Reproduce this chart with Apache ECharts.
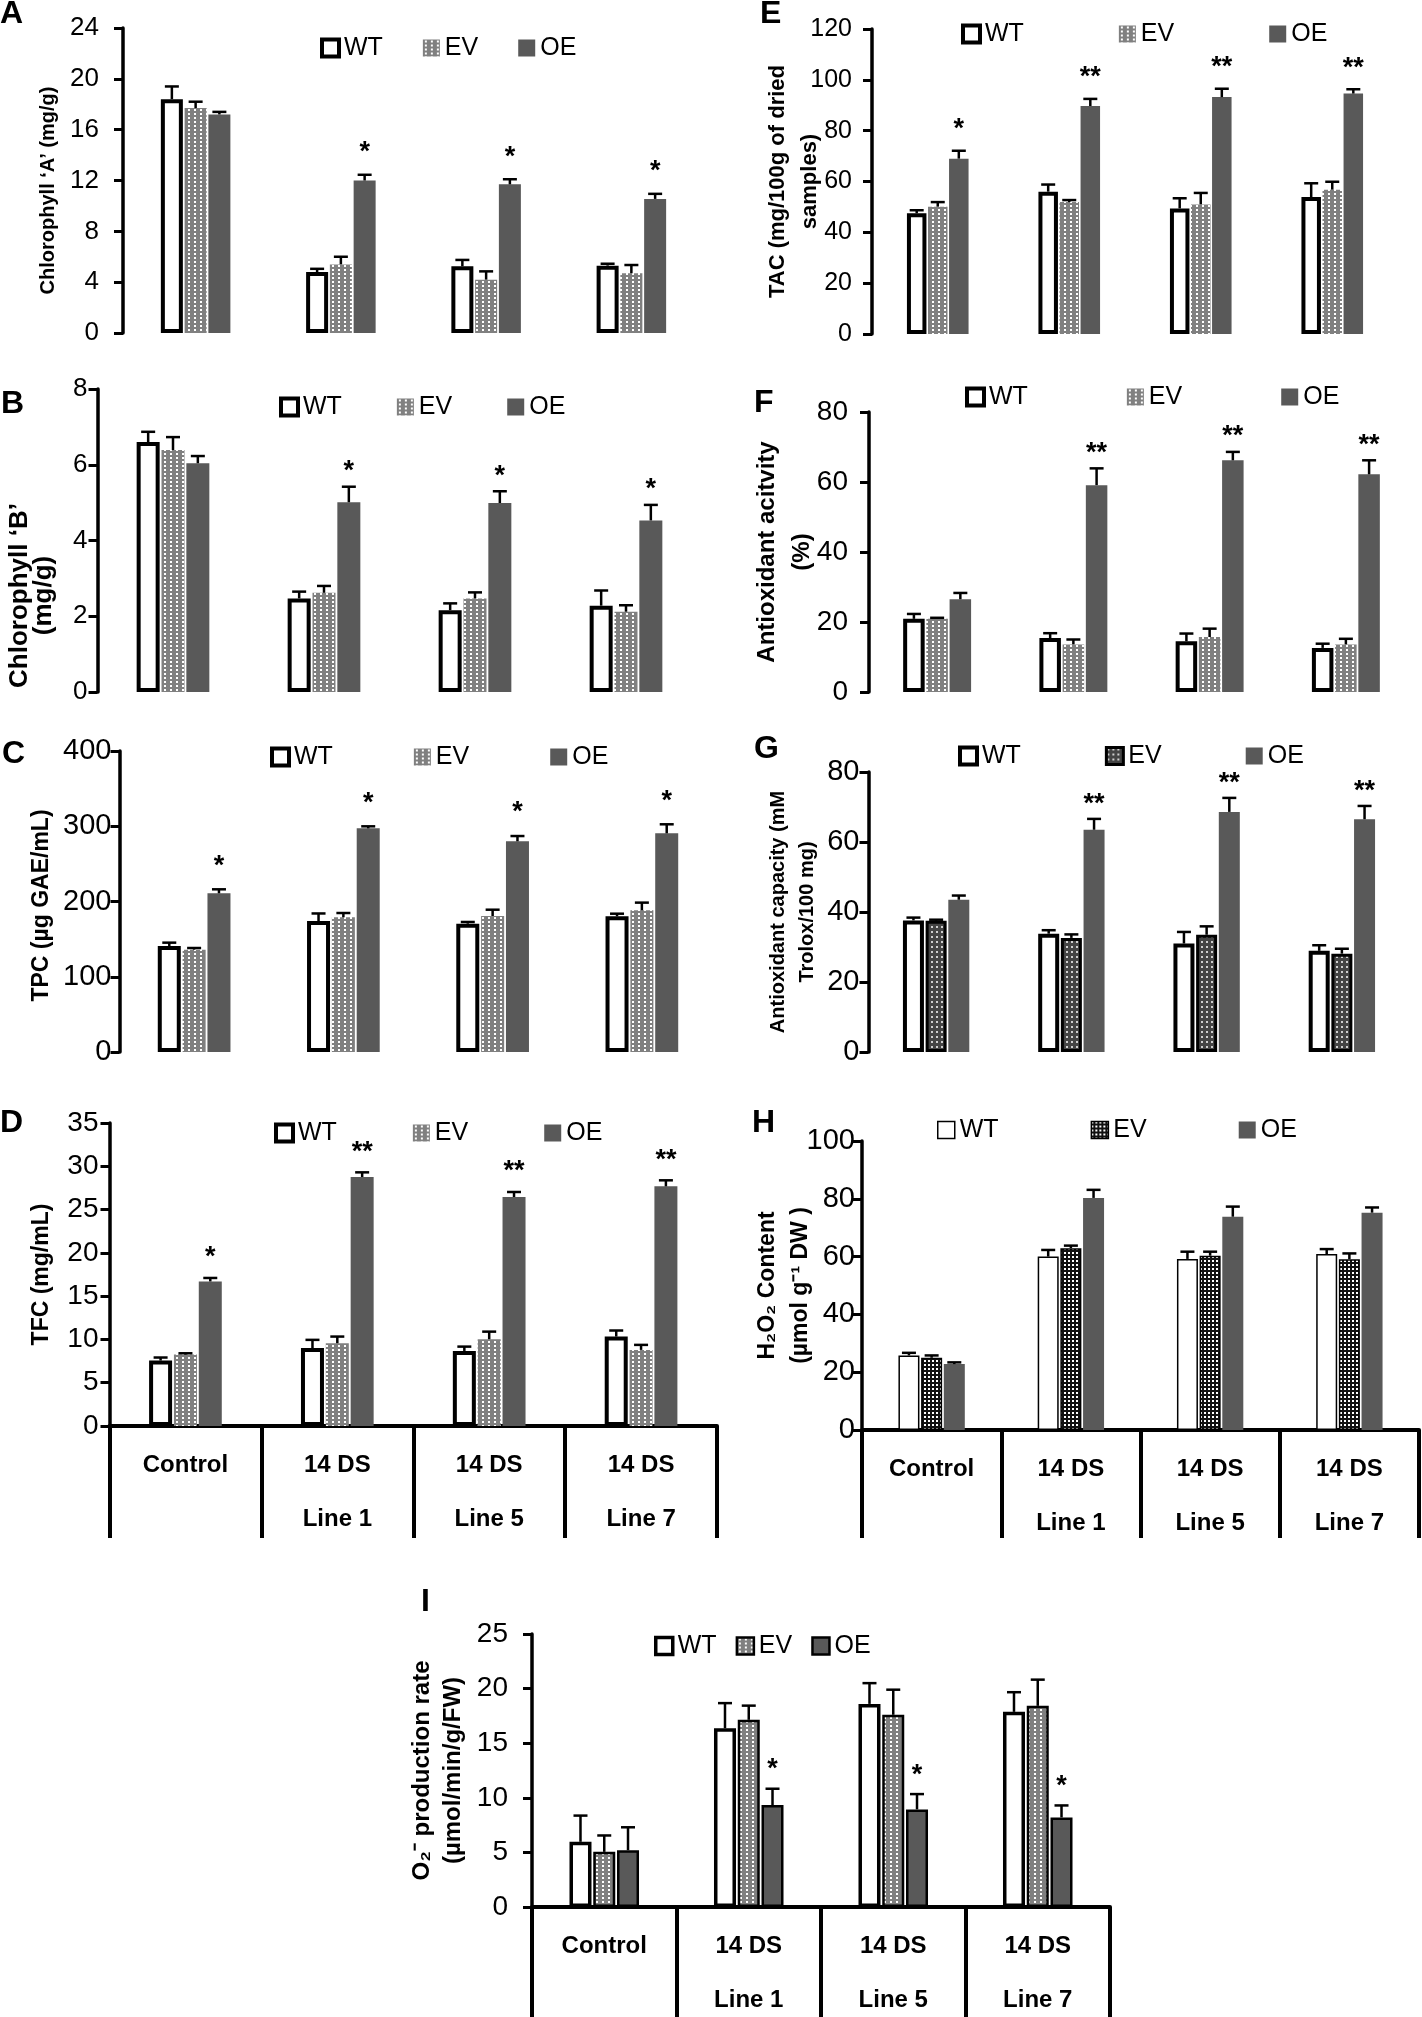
<!DOCTYPE html>
<html>
<head>
<meta charset="utf-8">
<script src="https://cdn.jsdelivr.net/npm/echarts@6.0.0/dist/echarts.min.js"></script>
<style>
html,body{margin:0;padding:0;background:#fff;}
#chart{width:1422px;height:2017px;}
</style>
</head>
<body>
<div id="chart"></div>
<script>
// ---------------- categories / legend ----------------
const categories = ['Control', '14 DS\nLine 1', '14 DS\nLine 5', '14 DS\nLine 7'];
const legendNames = ['WT', 'EV', 'OE'];

// ---------------- A: Chlorophyll 'A' ----------------
const ticksA = [0, 4, 8, 12, 16, 20, 24];
const chlA_WT = [18.4, 4.8, 5.25, 5.3];
const chlA_EV = [17.7, 5.4, 4.2, 4.7];
const chlA_OE = [17.2, 12.0, 11.7, 10.55];
const chlA_WT_err = [1.0, 0.25, 0.5, 0.15];
const chlA_EV_err = [0.5, 0.6, 0.65, 0.65];
const chlA_OE_err = [0.2, 0.45, 0.4, 0.4];
const chlA_sig = ['', '*', '*', '*'];

// ---------------- E: TAC ----------------
const ticksE = [0, 20, 40, 60, 80, 100, 120];
const tac_WT = [47.5, 56.0, 49.4, 53.9];
const tac_EV = [50.1, 51.9, 51.0, 56.8];
const tac_OE = [69.0, 89.7, 93.2, 94.6];
const tac_WT_err = [1.2, 2.8, 4.0, 5.4];
const tac_EV_err = [1.8, 0.8, 4.5, 3.1];
const tac_OE_err = [3.1, 2.8, 3.3, 1.7];
const tac_sig = ['*', '**', '**', '**'];

// ---------------- B: Chlorophyll 'B' ----------------
const ticksB = [0, 2, 4, 6, 8];
const chlB_WT = [6.6, 2.47, 2.16, 2.28];
const chlB_EV = [6.39, 2.62, 2.47, 2.12];
const chlB_OE = [6.04, 5.01, 4.99, 4.53];
const chlB_WT_err = [0.27, 0.18, 0.18, 0.4];
const chlB_EV_err = [0.34, 0.18, 0.16, 0.17];
const chlB_OE_err = [0.19, 0.41, 0.31, 0.41];
const chlB_sig = ['', '*', '*', '*'];

// ---------------- F: Antioxidant activity ----------------
const ticksF = [0, 20, 40, 60, 80];
const aa_WT = [20.9, 15.4, 14.5, 12.6];
const aa_EV = [20.9, 13.6, 15.7, 13.6];
const aa_OE = [26.5, 59.1, 66.2, 62.2];
const aa_WT_err = [1.4, 1.4, 2.2, 1.2];
const aa_EV_err = [0.3, 1.4, 2.4, 1.6];
const aa_OE_err = [1.8, 4.8, 2.4, 4.0];
const aa_sig = ['', '**', '**', '**'];

// ---------------- C: TPC ----------------
const ticksC = [0, 100, 200, 300, 400];
const tpc_WT = [140.9, 174.1, 170.5, 180.3];
const tpc_EV = [136, 179, 180.7, 188.3];
const tpc_OE = [210.9, 297.2, 280, 290.6];
const tpc_WT_err = [4.4, 10, 2.3, 3.5];
const tpc_EV_err = [2.2, 5.7, 8.4, 10.2];
const tpc_OE_err = [5.3, 2.7, 7, 12];
const tpc_sig = ['*', '*', '*', '*'];

// ---------------- G: Antioxidant capacity ----------------
const ticksG = [0, 20, 40, 60, 80];
const ac_WT = [37.6, 33.8, 31.0, 28.9];
const ac_EV = [37.5, 32.6, 33.5, 28.1];
const ac_OE = [43.5, 63.5, 68.6, 66.5];
const ac_WT_err = [0.8, 1.0, 3.3, 1.6];
const ac_EV_err = [0.3, 1.0, 2.4, 1.4];
const ac_OE_err = [1.2, 3.1, 4.0, 3.8];
const ac_sig = ['', '**', '**', '**'];

// ---------------- D: TFC ----------------
const ticksD = [0, 5, 10, 15, 20, 25, 30, 35];
const tfc_WT = [7.56, 9.0, 8.67, 10.33];
const tfc_EV = [8.25, 9.56, 10.02, 8.79];
const tfc_OE = [16.7, 28.76, 26.45, 27.68];
const tfc_WT_err = [0.35, 0.95, 0.5, 0.7];
const tfc_EV_err = [0.15, 0.77, 0.88, 0.58];
const tfc_OE_err = [0.4, 0.54, 0.58, 0.7];
const tfc_sig = ['*', '**', '**', '**'];

// ---------------- H: H2O2 content ----------------
const ticksH = [0, 20, 40, 60, 80, 100];
const h2o2_WT = [25.8, 60.0, 59.2, 60.9];
const h2o2_EV = [25.0, 62.9, 60.3, 59.1];
const h2o2_OE = [22.8, 80.3, 73.8, 75.2];
const h2o2_WT_err = [0.9, 2.3, 2.5, 1.7];
const h2o2_EV_err = [0.8, 0.9, 1.4, 2.0];
const h2o2_OE_err = [0.6, 2.8, 3.5, 1.8];
const h2o2_sig = ['', '', '', ''];

// ---------------- I: O2- production rate ----------------
const ticksI = [0, 5, 10, 15, 20, 25];
const o2_WT = [5.97, 16.37, 18.6, 17.87];
const o2_EV = [5.05, 17.14, 17.6, 18.42];
const o2_OE = [5.2, 9.33, 8.94, 8.2];
const o2_WT_err = [2.4, 2.3, 1.9, 1.8];
const o2_EV_err = [1.5, 1.3, 2.3, 2.4];
const o2_OE_err = [2.1, 1.5, 1.4, 1.1];
const o2_sig = ['', '*', '*', '*'];

// ---------------- styles ----------------
const FONT = '"Liberation Sans", Arial, sans-serif';
function pattern(bg, fg, w, h, dots) {
  const cv = document.createElement('canvas');
  cv.width = w; cv.height = h;
  const ctx = cv.getContext('2d');
  ctx.fillStyle = bg; ctx.fillRect(0, 0, w, h);
  ctx.fillStyle = fg;
  dots.forEach(d => ctx.fillRect(d[0], d[1], d[2], d[3]));
  return { image: cv, repeat: 'repeat' };
}
const patLight = pattern('#808080', '#ffffff', 6, 4, [[2, 1, 2, 2]]);
const patDark = pattern('#444444', '#cfcfcf', 5, 5, [[1, 1, 2, 2]]);
const patBlack = pattern('#111111', '#ffffff', 4, 4, [[0, 0, 2, 2]]);
const OE_COLOR = '#595959';

const STYLES = {
  std: { WT: { color: '#fff', borderColor: '#000', borderWidth: 4 }, EV: { color: patLight }, OE: { color: OE_COLOR } },
  g: { WT: { color: '#fff', borderColor: '#000', borderWidth: 4 }, EV: { color: patDark, borderColor: '#000', borderWidth: 3 }, OE: { color: OE_COLOR } },
  h: { WT: { color: '#fff', borderColor: '#000', borderWidth: 1.5 }, EV: { color: patBlack, borderColor: '#000', borderWidth: 1.5 }, OE: { color: OE_COLOR } },
  i: { WT: { color: '#fff', borderColor: '#000', borderWidth: 3.5 }, EV: { color: patLight, borderColor: '#000', borderWidth: 2.5 }, OE: { color: OE_COLOR, borderColor: '#000', borderWidth: 2.5 } }
};

// ---------------- panels (data refs + layout) ----------------
const panels = [
  { letter: 'A', title: 'Chlorophyll ‘A’ (mg/g)', ticks: ticksA,
    vals: [chlA_WT, chlA_EV, chlA_OE], errs: [chlA_WT_err, chlA_EV_err, chlA_OE_err], sig: chlA_sig,
    grid: [123, 28, 581, 305], bw: 22, tickFont: 26, lblMargin: 24, nameFont: 20, nameLH: 24, nameGap: 63, namePad: 20,
    lg: [320, 48, 40], star: 27, table: 0, style: 'std', letterPos: [0, -2] },
  { letter: 'E', title: 'TAC (mg/100g of dried\nsamples)', ticks: ticksE,
    vals: [tac_WT, tac_EV, tac_OE], errs: [tac_WT_err, tac_EV_err, tac_OE_err], sig: tac_sig,
    grid: [872, 29, 526, 305], bw: 19.5, tickFont: 25, lblMargin: 20, nameFont: 22, nameLH: 32, nameGap: 46, namePad: 0,
    lg: [961, 34, 95], star: 26, table: 0, style: 'std', letterPos: [760, -2] },
  { letter: 'B', title: 'Chlorophyll ‘B’\n(mg/g)', ticks: ticksB,
    vals: [chlB_WT, chlB_EV, chlB_OE], errs: [chlB_WT_err, chlB_EV_err, chlB_OE_err], sig: chlB_sig,
    grid: [97.5, 389, 604, 303], bw: 23, tickFont: 26, lblMargin: 10, nameFont: 26, nameLH: 24, nameGap: 42, namePad: 110,
    lg: [279, 407, 55], star: 20, table: 0, style: 'std', letterPos: [1, 388] },
  { letter: 'F', title: 'Antioxidant acitvity\n(%)', ticks: ticksF,
    vals: [aa_WT, aa_EV, aa_OE], errs: [aa_WT_err, aa_EV_err, aa_OE_err], sig: aa_sig,
    grid: [869, 412, 545, 280], bw: 21.5, tickFont: 28, lblMargin: 21, nameFont: 24, nameLH: 35, nameGap: 49, namePad: 0,
    lg: [965, 397, 99], star: 20, table: 0, style: 'std', letterPos: [754, 387] },
  { letter: 'C', title: 'TPC (µg GAE/mL)', ticks: ticksC,
    vals: [tpc_WT, tpc_EV, tpc_OE], errs: [tpc_WT_err, tpc_EV_err, tpc_OE_err], sig: tpc_sig,
    grid: [119.5, 751, 597, 301], bw: 23, tickFont: 29, lblMargin: 8, nameFont: 23, nameLH: 28, nameGap: 64, namePad: 8,
    lg: [270, 757, 81], star: 28, table: 0, style: 'std', letterPos: [2, 738] },
  { letter: 'G', title: 'Antioxidant capacity (mM\nTrolox/100 mg)', ticks: ticksG,
    vals: [ac_WT, ac_EV, ac_OE], errs: [ac_WT_err, ac_EV_err, ac_OE_err], sig: ac_sig,
    grid: [868.5, 772, 541, 280], bw: 21, tickFont: 29, lblMargin: 9, nameFont: 20, nameLH: 29, nameGap: 47, namePad: 0,
    lg: [958, 756, 84], star: 19, table: 0, style: 'g', letterPos: [754, 733] },
  { letter: 'D', title: 'TFC (mg/mL)', ticks: ticksD,
    vals: [tfc_WT, tfc_EV, tfc_OE], errs: [tfc_WT_err, tfc_EV_err, tfc_OE_err], sig: tfc_sig,
    grid: [109.5, 1123, 607.5, 303], bw: 23, tickFont: 28, lblMargin: 11, nameFont: 23, nameLH: 28, nameGap: 54, namePad: 0,
    lg: [274, 1133, 76], star: 25, table: 112, style: 'std', letterPos: [0, 1107] },
  { letter: 'H', title: 'H₂O₂ Content\n(µmol g⁻¹ DW )', ticks: ticksH,
    vals: [h2o2_WT, h2o2_EV, h2o2_OE], errs: [h2o2_WT_err, h2o2_EV_err, h2o2_OE_err], sig: h2o2_sig,
    grid: [862, 1141, 557, 289], bw: 21, tickFont: 29, lblMargin: 7, nameFont: 23, nameLH: 33, nameGap: 45, namePad: 0,
    lg: [937, 1130, 92], star: 20, table: 108, style: 'h', letterPos: [752, 1107] },
  { letter: 'I', title: 'O₂⁻ production rate\n(µmol/min/g/FW)', ticks: ticksI,
    vals: [o2_WT, o2_EV, o2_OE], errs: [o2_WT_err, o2_EV_err, o2_OE_err], sig: o2_sig,
    grid: [532, 1634, 578, 273], bw: 22, tickFont: 28, lblMargin: 24, nameFont: 24, nameLH: 31, nameGap: 63, namePad: 0,
    lg: [654, 1646, 19], star: 24, table: 115, style: 'i', letterPos: [421, 1586] }
];

const BAR_GAP = 0.08;
const grids = [], xAxes = [], yAxes = [], series = [], legends = [], graphics = [];

panels.forEach((p, i) => {
  const st = STYLES[p.style];
  grids.push({ left: p.grid[0], top: p.grid[1], width: p.grid[2], height: p.grid[3], containLabel: false, outerBoundsMode: 'none' });
  const table = p.table > 0;
  xAxes.push({
    gridIndex: i, type: 'category', data: categories, boundaryGap: true,
    axisLine: { show: table, onZero: false, lineStyle: { color: '#000', width: 4 } },
    axisTick: { show: table, interval: 0, length: p.table, alignWithLabel: false, lineStyle: { color: '#000', width: 4 } },
    axisLabel: { show: table, interval: 0, margin: 12, color: '#000', fontFamily: FONT, fontWeight: 'bold', fontSize: 24, lineHeight: 54 },
    splitLine: { show: false }
  });
  const tk = p.ticks;
  yAxes.push({
    gridIndex: i, type: 'value', min: tk[0], max: tk[tk.length - 1], interval: tk[1] - tk[0],
    axisLine: { show: true, lineStyle: { color: '#000', width: 3.5 } },
    axisTick: { show: true, length: 9, lineStyle: { color: '#000', width: 3 } },
    axisLabel: { color: '#000', fontFamily: FONT, fontSize: p.tickFont, margin: p.lblMargin },
    splitLine: { show: false },
    name: p.title, nameLocation: 'middle', nameGap: p.nameGap, nameRotate: 90, nameMoveOverlap: false,
    nameTextStyle: { color: '#000', fontFamily: FONT, fontWeight: 'bold', fontSize: p.nameFont, lineHeight: p.nameLH,
      padding: [0, p.namePad > 0 ? p.namePad : 0, 0, p.namePad < 0 ? -p.namePad : 0] }
  });
  legendNames.forEach((n, s) => {
    series.push({
      type: 'bar', name: n, xAxisIndex: i, yAxisIndex: i, data: p.vals[s],
      barWidth: p.bw, barGap: (BAR_GAP * 100) + '%', itemStyle: st[n], silent: true, z: 2
    });
  });
  const ed = [];
  for (let s = 0; s < 3; s++) for (let c = 0; c < 4; c++) ed.push([c, p.vals[s][c], p.errs[s][c], s]);
  series.push({
    type: 'custom', xAxisIndex: i, yAxisIndex: i, data: ed, encode: { x: 0, y: 1 }, z: 5, silent: true, clip: false,
    renderItem: function (params, api) {
      const c = api.value(0), v = api.value(1), e = api.value(2), s = api.value(3);
      const base = api.coord([c, v]);
      const top = api.coord([c, v + e]);
      const x = base[0] + (s - 1) * p.bw * (1 + BAR_GAP);
      const ch = [
        { type: 'line', shape: { x1: x, y1: base[1], x2: x, y2: top[1] }, style: { stroke: '#000', lineWidth: 2.5 } },
        { type: 'line', shape: { x1: x - 7, y1: top[1], x2: x + 7, y2: top[1] }, style: { stroke: '#000', lineWidth: 2.5 } }
      ];
      const sg = s === 2 ? p.sig[c] : '';
      if (sg) {
        ch.push({ type: 'text', x: x, y: top[1] - p.star + 5,
          style: { text: sg, fill: '#000', font: 'bold 27px ' + FONT, textAlign: 'center', textVerticalAlign: 'middle', align: 'center', verticalAlign: 'middle' } });
      }
      return { type: 'group', children: ch };
    }
  });
  legends.push({
    show: true, left: p.lg[0], top: p.lg[1] - 12.5, padding: 0, itemGap: p.lg[2], itemWidth: 17, itemHeight: 17,
    selectedMode: false, orient: 'horizontal',
    textStyle: { color: '#000', fontFamily: FONT, fontSize: 25 },
    data: legendNames.map(n => ({ name: n, icon: 'rect', itemStyle: st[n] }))
  });
  graphics.push({ type: 'text', left: p.letterPos[0], top: p.letterPos[1],
    style: { text: p.letter, fill: '#000', font: 'bold 32px ' + FONT } });
});

const chart = echarts.init(document.getElementById('chart'), null, { renderer: 'canvas' });
chart.setOption({
  animation: false,
  backgroundColor: '#fff',
  textStyle: { fontFamily: FONT },
  grid: grids, xAxis: xAxes, yAxis: yAxes, series: series, legend: legends, graphic: graphics,
  tooltip: { show: false }
});
</script>
</body>
</html>
